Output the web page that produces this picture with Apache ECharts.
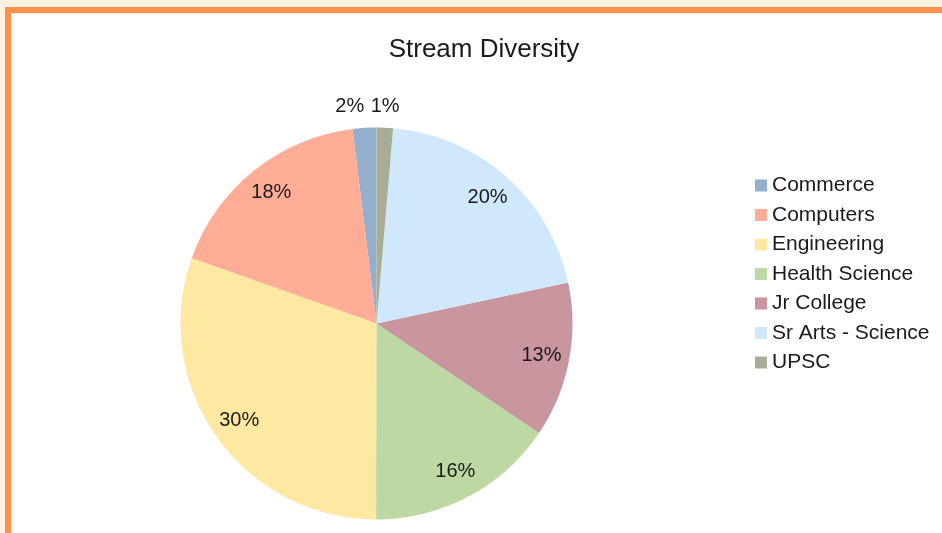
<!DOCTYPE html>
<html>
<head>
<meta charset="utf-8">
<script src="https://cdn.jsdelivr.net/npm/echarts@6/dist/echarts.min.js"></script>
<style>
html,body{margin:0;padding:0;width:942px;height:533px;overflow:hidden;background:#fff3e0;}
#frame{position:absolute;left:5px;top:7px;width:1000px;height:600px;background:#ffffff;border-top:6px solid #ff914d;border-left:6px solid #ff914d;}
#chart{position:absolute;left:0;top:0;width:942px;height:533px;}
</style>
</head>
<body>
<div id="frame"></div>
<div id="chart"></div>
<script>
const titleText = 'Stream Diversity';
const categories = ['Commerce','Computers','Engineering','Health Science','Jr College','Sr Arts - Science','UPSC'];
const values = [1.95, 17.65, 30.4, 15.6, 12.8, 20.3, 1.35];
const colors = ['#94afcd','#ffad96','#ffe8a2','#bdd8a3','#c9959f','#cfe8fc','#a8ae95'];

const font = '"Liberation Sans", Arial, sans-serif';
const chart = echarts.init(document.getElementById('chart'), null, {renderer:'canvas'});

const baseData = categories.map((c,i)=>({name:c, value:values[i], itemStyle:{color:colors[i]}}));
const smallCfg = {
  'Commerce': {dist: -1},
  'UPSC': {dist: -15}
};
const labelData = categories.map((c,i)=>{
  const item = {name:c, value:values[i]};
  if (smallCfg[c]) {
    item.label = {position:'outside', distanceToLabelLine: smallCfg[c].dist};
    item.labelLine = {show:false, length:21, length2:0};
  }
  return item;
});

chart.setOption({
  backgroundColor:'transparent',
  animation:false,
  title:{
    text:titleText, left:479, top:32, textAlign:'center',
    textStyle:{fontFamily:font, fontSize:26, fontWeight:'normal', color:'#1a1a1a'}
  },
  legend:{
    orient:'vertical', left:755, top:175, padding:0,
    itemWidth:12, itemHeight:12, itemGap:8.5,
    icon:'rect',
    data: categories.map((c,i)=>({name:c, itemStyle:{color:colors[i]}})),
    textStyle:{fontFamily:font, fontSize:21, color:'#1a1a1a'},
    selectedMode:false
  },
  series:[
    {
      type:'pie', center:[376.5,323.5], radius:196,
      startAngle:90, clockwise:false,
      label:{show:false}, labelLine:{show:false},
      itemStyle:{borderWidth:0},
      emphasis:{disabled:true},
      data: baseData
    },
    {
      type:'pie', center:[376.5,323.5], radius:[134,196],
      startAngle:90, clockwise:false, silent:true,
      avoidLabelOverlap:false,
      percentPrecision:0,
      itemStyle:{color:'rgba(0,0,0,0)', borderWidth:0},
      label:{show:true, position:'inside', formatter:'{d}%',
        fontFamily:font, fontSize:20, color:'#1a1a1a'},
      labelLine:{show:false},
      emphasis:{disabled:true},
      data: labelData
    }
  ]
});
</script>
</body>
</html>
